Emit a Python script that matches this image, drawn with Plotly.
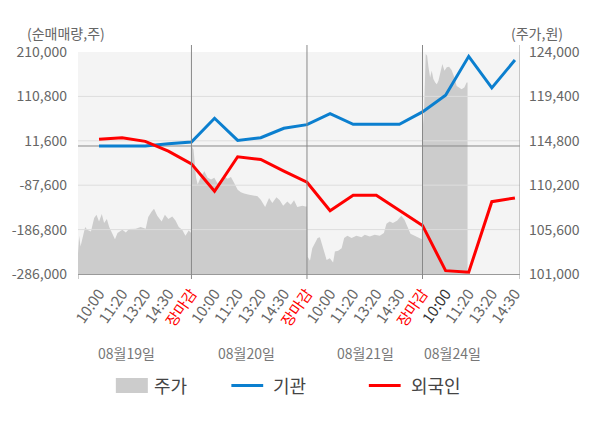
import plotly.graph_objects as go

# x tick labels (one per sampled time) and the dates underneath
time_labels = ["10:00", "11:20", "13:20", "14:30", "장마감",
               "10:00", "11:20", "13:20", "14:30", "장마감",
               "10:00", "11:20", "13:20", "14:30", "장마감",
               "10:00", "11:20", "13:20", "14:30"]
dates = ["08월19일", "08월20일", "08월21일", "08월24일"]
date_pos = [1.2, 6.37, 11.54, 15.29]

# net buying (shares), left axis
inst = [0, 0, 0, 5100, 8700, 61900, 12500, 18600, 39500, 47700,
        72400, 48400, 48400, 48400, 76100, 113500, 200300, 129900, 192000]
foreign = [14800, 18600, 10300, -11500, -39800, -101200, -24100, -30100, -56000, -81000,
           -144500, -110200, -110200, -143800, -177500, -278500, -282000, -124400, -116000]

# intraday stock price (won), right axis; x in time-slot units
price_x = [-0.91, -0.86, -0.80, -0.71, -0.60, -0.51, -0.35, -0.21, -0.11, 0.00,
           0.12, 0.22, 0.34, 0.44, 0.58, 0.69, 0.80, 1.01, 1.16, 1.30,
           1.59, 1.80, 2.02, 2.13, 2.28, 2.38, 2.52, 2.71, 2.85, 3.00,
           3.17, 3.31, 3.45, 3.60, 3.74, 3.88, 3.99,
           4.01, 4.09, 4.14, 4.20, 4.27, 4.42, 4.56, 4.70, 4.85, 4.99,
           5.13, 5.28, 5.42, 5.56, 5.71, 5.85, 6.00, 6.14, 6.28, 6.50,
           6.72, 6.86, 7.00, 7.19, 7.36, 7.50, 7.68, 7.82, 7.97, 8.15,
           8.30, 8.44, 8.58, 8.80, 8.94, 9.00,
           9.03, 9.13, 9.23, 9.34, 9.46, 9.56, 9.66, 9.74, 9.85, 9.99,
           10.13, 10.21, 10.35, 10.50, 10.61, 10.75, 10.93, 11.14, 11.36, 11.50,
           11.72, 11.93, 12.15, 12.33, 12.44, 12.58, 12.72, 12.91, 13.08, 13.22,
           13.34, 13.48, 13.66, 13.87, 13.97,
           14.03, 14.05, 14.14, 14.20, 14.26, 14.33, 14.40, 14.47, 14.55, 14.62,
           14.69, 14.76, 14.86, 14.95, 15.05, 15.15, 15.26, 15.38, 15.48, 15.58,
           15.69, 15.81, 15.91, 15.95]
price_val = [103150, 104950, 103840, 104720, 105860, 105580, 105400, 106800, 107140, 106440,
             107210, 106280, 106690, 105860, 105240, 104610, 105240, 105580, 105300, 105650,
             105680, 105860, 105680, 106900, 107480, 107770, 107040, 106440, 107140, 106690,
             106960, 106550, 105860, 105580, 104950, 105510, 105240,
             114250, 113900, 112520, 110960, 110260, 111130, 111650, 110960, 110780, 110960,
             110370, 110780, 111130, 110860, 111060, 110440, 109740, 109460, 109330, 109220,
             109120, 109050, 108700, 107940, 108880, 108360, 108940, 108630, 108080, 108520,
             108180, 108630, 107940, 108080, 108000, 108000,
             102800, 102380, 103680, 104200, 104720, 104820, 104020, 103320, 102460, 102630,
             102180, 103320, 103420, 103680, 104720, 104950, 104720, 104950, 104820, 105060,
             104880, 105060, 104950, 105240, 106200, 106440, 106280, 106550, 107040, 106620,
             105920, 105160, 104950, 104720, 104610,
             118000, 116510, 123790, 123610, 122410, 121370, 122050, 121190, 120850, 120670,
             121010, 121890, 122750, 122050, 122410, 122470, 122130, 121370, 120490, 120330,
             120150, 120330, 120850, 120850]

vol_ticks = [210000, 110800, 11600, -87600, -186800, -286000]
price_ticks = [124000, 119400, 114800, 110200, 105600, 101000]

X_RANGE = [-0.91, 18.22]
GRAY = "#666666"
FONT = "Noto Sans CJK KR"

slots = list(range(len(time_labels)))
ticktext = []
for i, lab in enumerate(time_labels):
    if lab == "장마감":
        ticktext.append("<span style='color:#ff0000'>장마감</span>")
    elif i == 15:
        ticktext.append("<span style='color:#333333'>" + lab + "</span>")
    else:
        ticktext.append(lab)
close_pos = [i for i, lab in enumerate(time_labels) if lab == "장마감"]

fig = go.Figure()

# price area (base axis, right side)
fig.add_trace(go.Scatter(x=price_x, y=price_val, mode="lines", fill="tozeroy",
                         line=dict(width=0, color="#cccccc"), fillcolor="#cccccc",
                         hoverinfo="skip", showlegend=False, yaxis="y"))

# gridlines drawn over the area
gx, gy = [], []
for v in vol_ticks[1:-1]:
    gx += [X_RANGE[0], X_RANGE[1], None]
    gy += [v, v, None]
fig.add_trace(go.Scatter(x=gx, y=gy, mode="lines", line=dict(color="#dddddd", width=1),
                         hoverinfo="skip", showlegend=False, yaxis="y2"))
fig.add_trace(go.Scatter(x=X_RANGE, y=[0, 0], mode="lines", line=dict(color="#888888", width=1),
                         hoverinfo="skip", showlegend=False, yaxis="y2"))

fig.add_trace(go.Scatter(x=slots, y=inst, mode="lines", name="기관",
                         line=dict(color="#0b7fcf", width=3), yaxis="y2"))
fig.add_trace(go.Scatter(x=slots, y=foreign, mode="lines", name="외국인",
                         line=dict(color="#ff0000", width=3), yaxis="y2"))

shapes = []
top = 1 + 7 / 222
tick = -5 / 222
for p in close_pos[:3]:
    shapes.append(dict(type="line", xref="x", yref="paper", x0=p, x1=p, y0=tick, y1=top,
                       line=dict(color="#888888", width=1), layer="above"))
shapes.append(dict(type="line", xref="x", yref="paper", x0=X_RANGE[1], x1=X_RANGE[1], y0=tick, y1=top,
                   line=dict(color="#999999", width=1), layer="above"))
shapes.append(dict(type="line", xref="x", yref="paper", x0=X_RANGE[0], x1=X_RANGE[0], y0=tick, y1=0,
                   line=dict(color="#999999", width=1), layer="above"))

# manual legend
shapes.append(dict(type="rect", xref="paper", yref="paper", x0=0.0856, x1=0.158, y0=-0.536, y1=-0.468,
                   fillcolor="#cccccc", line=dict(width=0)))
shapes.append(dict(type="line", xref="paper", yref="paper", x0=0.347, x1=0.419, y0=-0.502, y1=-0.502,
                   line=dict(color="#0b7fcf", width=3)))
shapes.append(dict(type="line", xref="paper", yref="paper", x0=0.658, x1=0.730, y0=-0.502, y1=-0.502,
                   line=dict(color="#ff0000", width=3)))

annotations = []
for d, p in zip(dates, date_pos):
    annotations.append(dict(x=p, y=-0.356, xref="x", yref="paper", text=d, showarrow=False,
                            xanchor="center", yanchor="middle",
                            font=dict(size=14, color="#777777", family=FONT)))
for txt, xp in [("주가", 0.168), ("기관", 0.437), ("외국인", 0.748)]:
    annotations.append(dict(x=xp, y=-0.502, xref="paper", yref="paper", text=txt, showarrow=False,
                            xanchor="left", yanchor="middle",
                            font=dict(size=18, color="#444444", family=FONT)))
annotations.append(dict(x=-0.119, y=1.086, xref="paper", yref="paper", text="(순매매량,주)",
                        showarrow=False, xanchor="left", yanchor="middle",
                        font=dict(size=14, color=GRAY, family=FONT)))
annotations.append(dict(x=0.975, y=1.086, xref="paper", yref="paper", text="(주가,원)",
                        showarrow=False, xanchor="left", yanchor="middle",
                        font=dict(size=14, color=GRAY, family=FONT)))

fig.update_layout(
    width=600, height=428,
    margin=dict(l=76, r=80, t=52, b=154),
    paper_bgcolor="white", plot_bgcolor="#f4f4f4",
    font=dict(family=FONT, size=14, color=GRAY),
    showlegend=False,
    xaxis=dict(range=X_RANGE, tickmode="array", tickvals=slots, ticktext=ticktext,
               tickangle=-55, showgrid=False, zeroline=False, showline=True,
               linecolor="#999999", linewidth=1, ticks="", ticklabelstandoff=4,
               tickfont=dict(size=15, color=GRAY)),
    yaxis=dict(side="right", range=[price_ticks[-1], price_ticks[0]], tickmode="array",
               tickvals=price_ticks, ticktext=[f"{v:,}" for v in price_ticks],
               showgrid=False, zeroline=False, ticks="", ticklabelstandoff=8,
               tickfont=dict(size=14, color=GRAY)),
    yaxis2=dict(side="left", overlaying="y", range=[vol_ticks[-1], vol_ticks[0]], tickmode="array",
                tickvals=vol_ticks, ticktext=[f"{v:,}" for v in vol_ticks],
                showgrid=False, zeroline=False, ticks="", ticklabelstandoff=10,
                tickfont=dict(size=14, color=GRAY)),
    shapes=shapes, annotations=annotations,
)

fig.write_html("out.html", config={"displayModeBar": False},
               post_script="document.body.style.margin='0';")
